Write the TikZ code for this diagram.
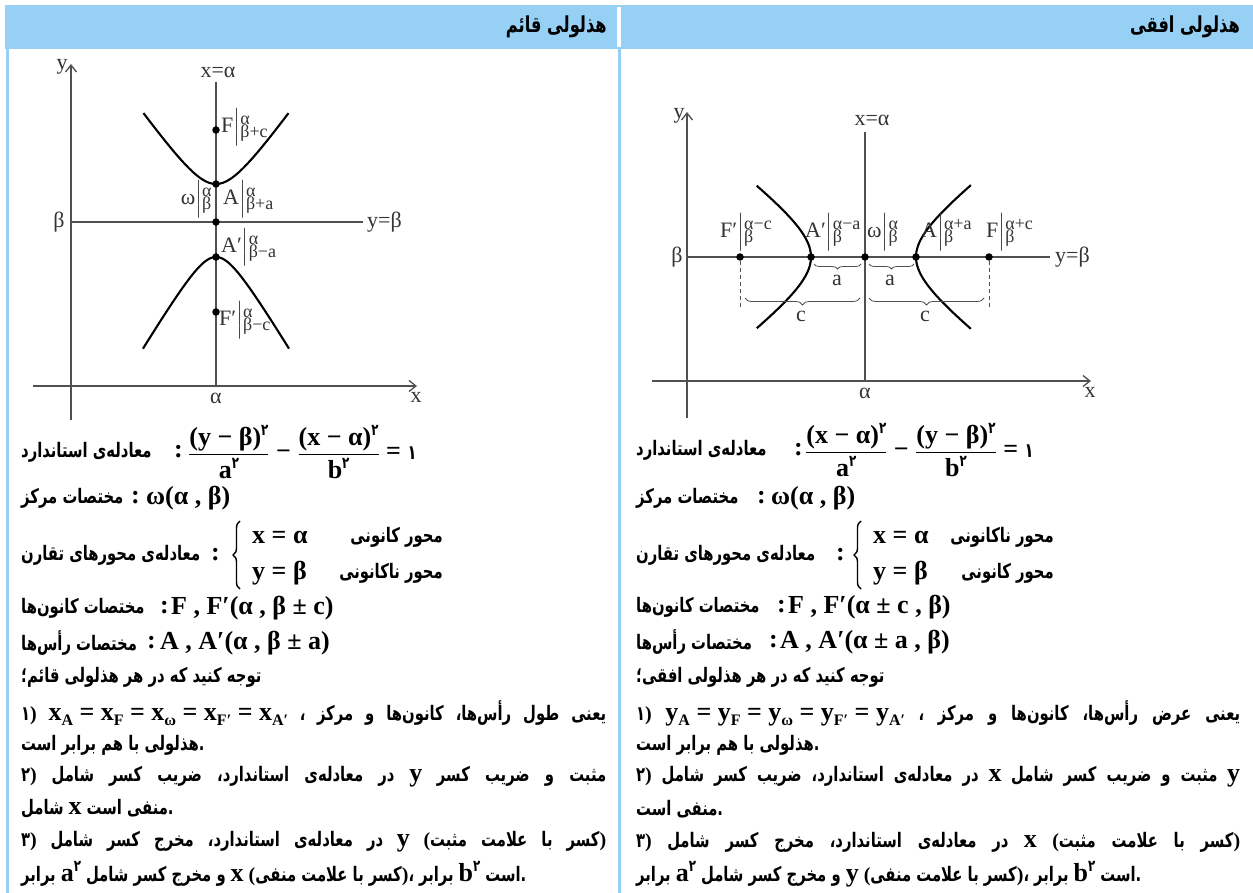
\documentclass[tikz,border=0pt]{standalone}
\usepackage{amsmath}
\usepackage{fontspec}
\setmainfont{Liberation Serif}
\newfontfamily\fa[Script=Arabic, FakeStretch=0.74]{DejaVu Sans}
\newfontfamily\tnr{Liberation Serif}
\TeXXeTstate=1
\usetikzlibrary{arrows.meta, decorations.pathreplacing}
\definecolor{hdrblue}{RGB}{150,208,244}
\definecolor{axisgray}{RGB}{80,80,80}
% text helpers
\newcommand{\fat}[1]{{\fa\bfseries\beginR #1\endR}}
\newcommand{\fad}[1]{{\fa\bfseries #1}}
\newcommand{\pl}[1]{{\tnr\bfseries\fontsize{20}{22}\selectfont #1}}
\newcommand{\la}[1]{{\tnr\bfseries\fontsize{26}{28}\selectfont #1}}
\newcommand{\lsub}[1]{\raisebox{-5pt}{\tnr\bfseries\fontsize{16}{17}\selectfont #1}}
\newcommand{\two}{\raisebox{10pt}{\fa\bfseries\fontsize{16}{17}\selectfont ۲}}
\newcommand{\frc}[2]{$\genfrac{}{}{1.1pt}{0}{\hbox{#1}}{\hbox{#2}}$}
\newcommand{\ptlab}[3]{#1$\left|\vcenter{\hbox{\fontsize{18}{19}\selectfont
  \begin{tabular}{@{}l@{}}#2\\[-6pt]#3\end{tabular}}}\right.$}

\begin{document}
\begin{tikzpicture}[x=1pt, y=-1pt,
  axis/.style={axisgray, line width=1.3pt},
  arr/.style={axis, -{Straight Barb[length=7pt, width=11pt, line width=1.3pt]}},
  curve/.style={black, line width=2.1pt},
  dot/.style={circle, fill=black, inner sep=0pt, minimum size=7.5pt},
  glab/.style={text=black!80, inner sep=0pt, font=\fontsize{22}{23}\selectfont},
  plab/.style={glab, anchor=west},
  dimbrace/.style={decorate, decoration={brace, amplitude=#1}, axisgray, line width=0.8pt},
  bigbrace/.style={decorate, decoration={brace, amplitude=7pt}, line width=1.4pt},
  txt/.style={anchor=west, inner sep=0pt, font=\fontsize{20}{22}\selectfont},
  hd/.style={anchor=east, inner sep=0pt, font=\fontsize{22}{24}\selectfont\fa\bfseries}]
\useasboundingbox (0,0) rectangle (1253,893);

% table frame
\fill[hdrblue] (5,5) rectangle (1253,49);
\fill[white] (617,7) rectangle (621,47);
\fill[hdrblue] (6,49) rectangle (9,893);
\fill[hdrblue] (618,49) rectangle (621,893);
\node[hd] (hdQ) at (607,27) {\beginR هذلولی قائم\endR};
\node[hd] (hdO) at (1240,27) {\beginR هذلولی افقی\endR};

% ---- vertical hyperbola (left)
\coordinate (LyB) at (71,420);  \coordinate (LyT) at (71,64);
\coordinate (LxL) at (33,386);  \coordinate (LxR) at (417,386);
\coordinate (LvT) at (216,82);  \coordinate (LvB) at (216,386);
\coordinate (LhL) at (71,222);  \coordinate (LhR) at (363,222);
\draw[arr] (LyB) -- (LyT);
\draw[arr] (LxL) -- (LxR);
\draw[axis] (LvT) -- (LvB);
\draw[axis] (LhL) -- (LhR);
\node[glab] (LyLab) at (62,67) {y};
\node[glab] (LxLab) at (416,397) {x};
\node[glab] (LvLab) at (218,72) {x=α};
\node[glab, anchor=west] (LhLab) at (367,222) {y=β};
\node[glab] (LbLab) at (59,222) {β};
\node[glab] (LaLab) at (216,398) {α};
\draw[curve] plot[domain=-1.714:1.714, samples=50, variable=\t] ({216+27*sinh(\t)}, {222-38*cosh(\t)});
\draw[curve] plot[domain=-1.96:1.96, samples=50, variable=\t] ({216+21*sinh(\t)}, {222+35*cosh(\t)});
\node[dot] (FL) at (216,130) {};
\node[dot] (AL) at (216,184) {};
\node[dot] (WL) at (216,222) {};
\node[dot] (ApL) at (216,257) {};
\node[dot] (FpL) at (216,312) {};
\node[plab] (labFL) at (221,127) {\ptlab{F}{α}{β+c}};
\node[plab, anchor=east] (labWL) at (213,199) {\ptlab{ω}{α}{β}};
\node[plab] (labAL) at (223,199) {\ptlab{A}{α}{β+a}};
\node[plab] (labApL) at (221,247) {\ptlab{A′}{α}{β−a}};
\node[plab] (labFpL) at (219,320) {\ptlab{F′}{α}{β−c}};

% ---- horizontal hyperbola (right)
\coordinate (RyB) at (687,418);  \coordinate (RyT) at (687,112);
\coordinate (RxL) at (652,381);  \coordinate (RxR) at (1091,381);
\coordinate (RvT) at (865,132);  \coordinate (RvB) at (865,381);
\coordinate (RhL) at (687,257);  \coordinate (RhR) at (1050,257);
\draw[arr] (RyB) -- (RyT);
\draw[arr] (RxL) -- (RxR);
\draw[axis] (RvT) -- (RvB);
\draw[axis] (RhL) -- (RhR);
\node[glab] (RyLab) at (679,116) {y};
\node[glab] (RxLab) at (1090,392) {x};
\node[glab] (RvLab) at (872,120) {x=α};
\node[glab, anchor=west] (RhLab) at (1055,257) {y=β};
\node[glab] (RbLab) at (677,257) {β};
\node[glab] (RaLab) at (865,393) {α};
\draw[curve] plot[domain=-1.32:1.32, samples=50, variable=\t] ({865-54*cosh(\t)}, {257+41*sinh(\t)});
\draw[curve] plot[domain=-1.36:1.36, samples=50, variable=\t] ({865+51*cosh(\t)}, {257+39.5*sinh(\t)});
\node[dot] (FpR) at (740,257) {};
\node[dot] (ApR) at (811,257) {};
\node[dot] (WR) at (865,257) {};
\node[dot] (AR) at (916,257) {};
\node[dot] (FR) at (989,257) {};
\coordinate (FpRd) at (740,308);
\coordinate (FRd) at (989,308);
\draw[axis, line width=1pt, dash pattern=on 4pt off 3pt] (FpR) -- (FpRd);
\draw[axis, line width=1pt, dash pattern=on 4pt off 3pt] (FR) -- (FRd);
\draw[dimbrace=5pt] (861,264) -- (814,264);
\draw[dimbrace=5pt] (914,264) -- (869,264);
\draw[dimbrace=7pt] (860,298) -- (745,298);
\draw[dimbrace=7pt] (984,298) -- (869,298);
\node[glab] (aLab) at (837,280) {a};
\node[glab] (aRab) at (890,280) {a};
\node[glab] (cLab) at (801,316) {c};
\node[glab] (cRab) at (925,316) {c};
\node[plab] (labFpR) at (720,232) {\ptlab{F′}{α−c}{β}};
\node[plab] (labApR) at (805,232) {\ptlab{A′}{α−a}{β}};
\node[plab] (labWR) at (867,232) {\ptlab{ω}{α}{β}};
\node[plab] (labAR) at (921,232) {\ptlab{A}{α+a}{β}};
\node[plab] (labFR) at (986,232) {\ptlab{F}{α+c}{β}};

% ---- left column text
\node[txt] (stdL) at (21,452) {\fat{معادله‌ی استاندارد}};
\node[txt] (stdLc) at (174,452) {\la{:}};
\node[txt] (stdLe) at (188,452) {\frc{\la{(y − β)}\two}{\la{a}\two}\la{ − }\frc{\la{(x − α)}\two}{\la{b}\two}\la{ = }\fad{۱}};
\node[txt] (cenL) at (21,498) {\fat{مختصات مرکز}};
\node[txt] (cenLc) at (131,498) {\la{:}};
\node[txt] (cenLe) at (146,498) {\la{ω(α , β)}};
\node[txt] (symL) at (21,555) {\fat{معادله‌ی محورهای تقارن}};
\node[txt] (symLc) at (211,555) {\la{:}};
\coordinate (brLb) at (240,589);
\coordinate (brLt) at (240,521);
\draw[bigbrace] (brLb) -- (brLt);
\node[txt] (symLx) at (252,537) {\la{x = α}};
\node[txt] (symLy) at (252,573) {\la{y = β}};
\node[txt, anchor=east] (symLxt) at (443,537) {\fat{محور کانونی}};
\node[txt, anchor=east] (symLyt) at (443,573) {\fat{محور ناکانونی}};
\node[txt] (focL) at (21,608) {\fat{مختصات کانون‌ها}};
\node[txt] (focLc) at (160,608) {\la{:}};
\node[txt] (focLe) at (171,608) {\la{F , F′(α , β ± c)}};
\node[txt] (verL) at (21,643) {\fat{مختصات رأس‌ها}};
\node[txt] (verLc) at (147,643) {\la{:}};
\node[txt] (verLe) at (160,643) {\la{A , A′(α , β ± a)}};

\node[txt] (noteL) at (21,677) {\fat{توجه کنید که در هر هذلولی قائم؛}};
\node[txt] (n1L) at (21,713) {\makebox[585pt][s]{\fad{۱}\pl{)} \mbox{\la{x}\lsub{A}\la{ = x}\lsub{F}\la{ = x}\lsub{ω}\la{ = x}\lsub{F′}\la{ = x}\lsub{A′}} \fad{،} \fat{یعنی طول رأس‌ها، کانون‌ها و مرکز}}};
\node[txt] (n1Lb) at (21,745) {\fat{هذلولی با هم برابر است}\fad{.}};
\node[txt] (n2L) at (21,777) {\makebox[585pt][s]{\fad{۲}\pl{)} \fat{در معادله‌ی استاندارد، ضریب کسر شامل} \la{y} \fat{مثبت و ضریب کسر}}};
\node[txt] (n2Lb) at (21,809) {\fat{شامل} \la{x} \fat{منفی است}\fad{.}};
\node[txt] (n3L) at (21,842) {\makebox[585pt][s]{\fad{۳}\pl{)} \fat{در معادله‌ی استاندارد، مخرج کسر شامل} \la{y} \pl{(}\fat{کسر با علامت مثبت}\pl{)}}};
\node[txt] (n3Lb) at (21,874) {\fat{برابر} \la{a}\two{} \fat{و مخرج کسر شامل} \la{x} \pl{(}\fat{کسر با علامت منفی}\pl{)}\fad{،} \fat{برابر} \la{b}\two{} \fat{است}\fad{.}};

% ---- right column text
\node[txt] (stdR) at (636,450) {\fat{معادله‌ی استاندارد}};
\node[txt] (stdRc) at (794,450) {\la{:}};
\node[txt] (stdRe) at (805,450) {\frc{\la{(x − α)}\two}{\la{a}\two}\la{ − }\frc{\la{(y − β)}\two}{\la{b}\two}\la{ = }\fad{۱}};
\node[txt] (cenR) at (636,498) {\fat{مختصات مرکز}};
\node[txt] (cenRc) at (757,498) {\la{:}};
\node[txt] (cenRe) at (771,498) {\la{ω(α , β)}};
\node[txt] (symR) at (636,555) {\fat{معادله‌ی محورهای تقارن}};
\node[txt] (symRc) at (836,555) {\la{:}};
\coordinate (brRb) at (861,589);
\coordinate (brRt) at (861,521);
\draw[bigbrace] (brRb) -- (brRt);
\node[txt] (symRx) at (873,537) {\la{x = α}};
\node[txt] (symRy) at (873,573) {\la{y = β}};
\node[txt, anchor=east] (symRxt) at (1054,537) {\fat{محور ناکانونی}};
\node[txt, anchor=east] (symRyt) at (1054,573) {\fat{محور کانونی}};
\node[txt] (focR) at (636,607) {\fat{مختصات کانون‌ها}};
\node[txt] (focRc) at (777,607) {\la{:}};
\node[txt] (focRe) at (788,607) {\la{F , F′(α ± c , β)}};
\node[txt] (verR) at (636,642) {\fat{مختصات رأس‌ها}};
\node[txt] (verRc) at (769,642) {\la{:}};
\node[txt] (verRe) at (780,642) {\la{A , A′(α ± a , β)}};

\node[txt] (noteR) at (636,677) {\fat{توجه کنید که در هر هذلولی افقی؛}};
\node[txt] (n1R) at (636,713) {\makebox[604pt][s]{\fad{۱}\pl{)} \mbox{\la{y}\lsub{A}\la{ = y}\lsub{F}\la{ = y}\lsub{ω}\la{ = y}\lsub{F′}\la{ = y}\lsub{A′}} \fad{،} \fat{یعنی عرض رأس‌ها، کانون‌ها و مرکز}}};
\node[txt] (n1Rb) at (636,745) {\fat{هذلولی با هم برابر است}\fad{.}};
\node[txt] (n2R) at (636,777) {\makebox[604pt][s]{\fad{۲}\pl{)} \fat{در معادله‌ی استاندارد، ضریب کسر شامل} \la{x} \fat{مثبت و ضریب کسر شامل} \la{y}}};
\node[txt] (n2Rb) at (636,809) {\fat{منفی است}\fad{.}};
\node[txt] (n3R) at (636,842) {\makebox[604pt][s]{\fad{۳}\pl{)} \fat{در معادله‌ی استاندارد، مخرج کسر شامل} \la{x} \pl{(}\fat{کسر با علامت مثبت}\pl{)}}};
\node[txt] (n3Rb) at (636,874) {\fat{برابر} \la{a}\two{} \fat{و مخرج کسر شامل} \la{y} \pl{(}\fat{کسر با علامت منفی}\pl{)}\fad{،} \fat{برابر} \la{b}\two{} \fat{است}\fad{.}};
\end{tikzpicture}
\end{document}
